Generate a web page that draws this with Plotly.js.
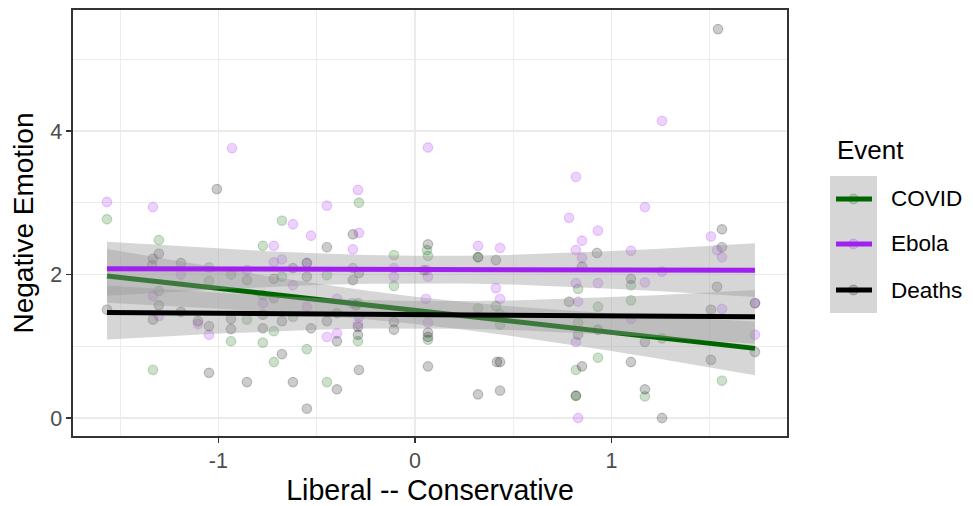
<!DOCTYPE html>
<html>
<head>
<meta charset="utf-8">
<script src="https://cdn.plot.ly/plotly-3.0.1.min.js"></script>
<style>html,body{margin:0;padding:0;background:#fff;}#chart{width:973px;height:506px;}</style>
</head>
<body>
<div id="chart"></div>
<script>
// ---- data ----
const groups = ["COVID", "Ebola", "Deaths"];

const covidX = [-1.567,-1.303,-1.303,-1.333,-1.048,-1.048,-0.936,-0.936,-0.855,-0.677,-0.774,-0.677,-0.448,-0.316,-0.285,-0.107,-0.107,-0.774,-0.621,-0.397,-0.290,-0.290,-0.718,-0.774,-0.550,-0.718,-0.448,0.061,0.066,0.066,0.321,0.321,0.412,0.433,0.433,0.830,0.931,0.830,0.931,0.819,0.819,1.099,1.099,1.257,1.562,1.170];
const covidY = [2.77,2.48,1.77,0.67,2.10,1.91,2.00,1.07,1.37,2.75,2.40,1.97,1.99,2.09,3.00,2.27,1.84,1.71,1.41,1.46,1.60,1.07,1.21,1.05,0.96,0.78,0.50,2.34,2.26,1.09,2.24,1.53,1.56,1.45,1.30,1.80,1.55,1.33,0.84,0.67,0.31,1.85,1.64,1.11,0.52,0.30];

const ebolaX = [-1.567,-1.333,-1.333,-1.303,-1.191,-1.104,-1.048,-0.931,-0.855,-0.290,-0.448,-0.621,-0.529,-0.285,-0.718,-0.316,-0.718,-0.677,-0.550,-0.107,-0.107,-0.621,-0.774,-0.550,-0.397,-0.321,-0.285,-0.290,-0.448,-0.397,0.066,0.061,0.066,0.056,0.066,0.321,0.433,0.412,0.433,0.819,0.784,0.931,0.850,0.819,0.850,0.819,0.931,0.830,0.819,0.830,1.170,1.257,1.506,1.537,1.562,1.099,1.257,1.170,1.562,1.730,1.099,1.730];
const ebolaY = [3.01,2.94,1.70,1.42,2.00,1.31,1.16,3.76,2.06,3.18,2.96,2.70,2.54,2.58,2.40,2.35,2.17,2.21,2.16,2.09,1.97,1.85,1.60,1.55,1.66,1.60,1.41,1.31,1.13,1.18,3.77,2.06,1.97,1.66,1.33,2.40,2.37,1.81,1.66,3.36,2.79,2.61,2.47,2.34,2.23,1.88,1.88,1.62,1.06,0.00,2.94,4.14,2.53,2.34,2.24,2.33,2.04,1.89,1.52,1.60,1.38,1.16];

const deathsX = [-1.567,-1.008,-1.303,-1.333,-1.338,-1.191,-0.855,-1.303,-1.191,-1.333,-1.104,-1.048,-0.936,-0.936,-1.048,-0.855,-0.316,-0.448,-0.550,-0.621,-0.550,-0.718,-0.316,-0.285,-0.718,-0.774,-0.677,-0.448,-0.300,-0.290,-0.290,-0.397,-0.529,-0.774,-0.107,-0.107,-0.677,-0.621,-0.397,-0.285,-0.550,0.066,0.046,0.066,0.066,0.066,0.321,0.412,0.417,0.433,0.321,0.433,0.926,0.850,0.784,0.830,0.931,0.850,0.819,1.562,1.562,1.099,1.537,1.506,1.730,1.170,1.730,1.099,1.506,1.170,1.257,1.542];
const deathsY = [1.51,3.19,2.29,2.22,2.13,2.16,1.92,1.57,1.48,1.37,1.35,1.28,1.38,1.24,0.63,0.50,2.56,2.38,2.16,2.09,1.97,1.94,1.92,2.02,1.67,1.44,1.35,1.35,1.57,1.27,1.16,1.07,1.25,1.25,1.34,1.23,0.89,0.50,0.40,0.67,0.13,2.42,2.06,1.19,1.13,0.72,2.24,2.20,0.78,0.78,0.33,0.38,2.30,2.11,1.62,1.16,1.23,0.72,0.31,2.63,2.38,1.94,1.83,1.51,1.60,1.06,0.92,0.78,0.81,0.40,0.00,5.42];

// fitted lines and confidence bands
const fitX = [-1.567, -1.25, -1.0, -0.75, -0.5, -0.25, 0.0, 0.25, 0.5, 0.75, 1.0, 1.25, 1.5, 1.730];
const covidFit = [1.980, 1.883, 1.806, 1.730, 1.653, 1.577, 1.500, 1.423, 1.347, 1.270, 1.194, 1.117, 1.041, 0.970];
const ebolaFit = [2.080, 2.078, 2.077, 2.075, 2.074, 2.072, 2.070, 2.069, 2.067, 2.066, 2.064, 2.063, 2.061, 2.060];
const deathsFit = [1.470, 1.464, 1.460, 1.455, 1.451, 1.446, 1.441, 1.437, 1.432, 1.428, 1.423, 1.419, 1.414, 1.410];
const bandHalf = [0.375, 0.326, 0.284, 0.250, 0.221, 0.200, 0.191, 0.193, 0.207, 0.230, 0.262, 0.296, 0.334, 0.375];

const xTickVals = [-1, 0, 1];
const xTickText = ["-1", "0", "1"];
const yTickVals = [0, 2, 4];
const yTickText = ["0", "2", "4"];

// ---- styling ----
const colors = {COVID: "#006400", Ebola: "#A020F0", Deaths: "#000000"};
const rgba = {COVID: "rgba(0,100,0,0.2)", Ebola: "rgba(160,32,240,0.2)", Deaths: "rgba(0,0,0,0.2)"};
const font = "Liberation Sans, Arial, sans-serif";

const pts = {COVID: [covidX, covidY], Ebola: [ebolaX, ebolaY], Deaths: [deathsX, deathsY]};
const fits = {COVID: covidFit, Ebola: ebolaFit, Deaths: deathsFit};

const traces = [];
groups.forEach(g => {
  traces.push({
    type: "scatter", mode: "markers", name: g, showlegend: false,
    x: pts[g][0], y: pts[g][1],
    marker: {size: 9.5, color: rgba[g], line: {color: rgba[g], width: 1.3}},
    hoverinfo: "x+y"
  });
});
groups.forEach(g => {
  const f = fits[g];
  const up = f.map((v, i) => v + bandHalf[i]);
  const lo = f.map((v, i) => v - bandHalf[i]);
  traces.push({
    type: "scatter", mode: "lines", showlegend: false, hoverinfo: "skip",
    x: fitX.concat(fitX.slice().reverse()),
    y: up.concat(lo.slice().reverse()),
    fill: "toself", fillcolor: "rgba(153,153,153,0.4)",
    line: {width: 0, color: "rgba(0,0,0,0)"}
  });
  traces.push({
    type: "scatter", mode: "lines", name: g, showlegend: false,
    x: fitX, y: f,
    line: {color: colors[g], width: 5}
  });
});

// manual legend (ggplot style keys with grey fill)
const L = 73, R = 787, T = 10, B = 436;
const px2x = p => (p - L) / (R - L);
const py2y = p => (B - p) / (B - T);
const shapes = [{
  type: "rect", xref: "paper", yref: "paper",
  x0: px2x(830), x1: px2x(877), y0: py2y(313), y1: py2y(176),
  fillcolor: "#d6d6d6", line: {width: 0}, layer: "above"
}];
const annotations = [{
  xref: "paper", yref: "paper", x: px2x(835), y: py2y(150), xanchor: "left", yanchor: "middle",
  text: "Event", showarrow: false, font: {family: font, size: 26, color: "#000"}
}];
const keyY = [199, 244, 290];
groups.forEach((g, i) => {
  shapes.push({
    type: "circle", xref: "paper", yref: "paper", xsizemode: "pixel", ysizemode: "pixel",
    xanchor: px2x(853.5), yanchor: py2y(keyY[i]), x0: -5, x1: 5, y0: -5, y1: 5,
    fillcolor: rgba[g], line: {color: rgba[g], width: 1}, layer: "above"
  });
  shapes.push({
    type: "line", xref: "paper", yref: "paper",
    x0: px2x(836), x1: px2x(872), y0: py2y(keyY[i]), y1: py2y(keyY[i]),
    line: {color: colors[g], width: 5}, layer: "above"
  });
  annotations.push({
    xref: "paper", yref: "paper", x: px2x(889), y: py2y(keyY[i]), xanchor: "left", yanchor: "middle",
    text: g, showarrow: false, font: {family: font, size: 22.5, color: "#000"}
  });
});

const layout = {
  width: 973, height: 506,
  margin: {l: L, r: 973 - R, t: T, b: 506 - B},
  paper_bgcolor: "#ffffff", plot_bgcolor: "#ffffff",
  showlegend: false,
  font: {family: font},
  xaxis: {
    range: [-1.74, 1.893], tickvals: xTickVals, ticktext: xTickText,
    ticks: "outside", ticklen: 5, tickwidth: 1.2, tickcolor: "#333333",
    tickfont: {family: font, size: 21.5, color: "#4d4d4d"},
    showgrid: true, gridcolor: "#ebebeb", gridwidth: 1.6, zeroline: false,
    minor: {dtick: 0.5, tick0: -1.5, showgrid: true, gridcolor: "#ebebeb", gridwidth: 0.9, ticks: ""},
    showline: true, mirror: true, linecolor: "#333333", linewidth: 1.6,
    title: {text: "Liberal -- Conservative", font: {family: font, size: 28.6, color: "#000"}, standoff: 8}
  },
  yaxis: {
    range: [-0.251, 5.686], tickvals: yTickVals, ticktext: yTickText,
    ticks: "outside", ticklen: 5, tickwidth: 1.2, tickcolor: "#333333",
    tickfont: {family: font, size: 21.5, color: "#4d4d4d"},
    showgrid: true, gridcolor: "#ebebeb", gridwidth: 1.6, zeroline: false,
    minor: {dtick: 1, tick0: 1, showgrid: true, gridcolor: "#ebebeb", gridwidth: 0.9, ticks: ""},
    showline: true, mirror: true, linecolor: "#333333", linewidth: 1.6,
    title: {text: "Negative Emotion", font: {family: font, size: 28, color: "#000"}, standoff: 8}
  },
  shapes: shapes,
  annotations: annotations
};

Plotly.newPlot("chart", traces, layout, {displayModeBar: false, staticPlot: true});
</script>
</body>
</html>
